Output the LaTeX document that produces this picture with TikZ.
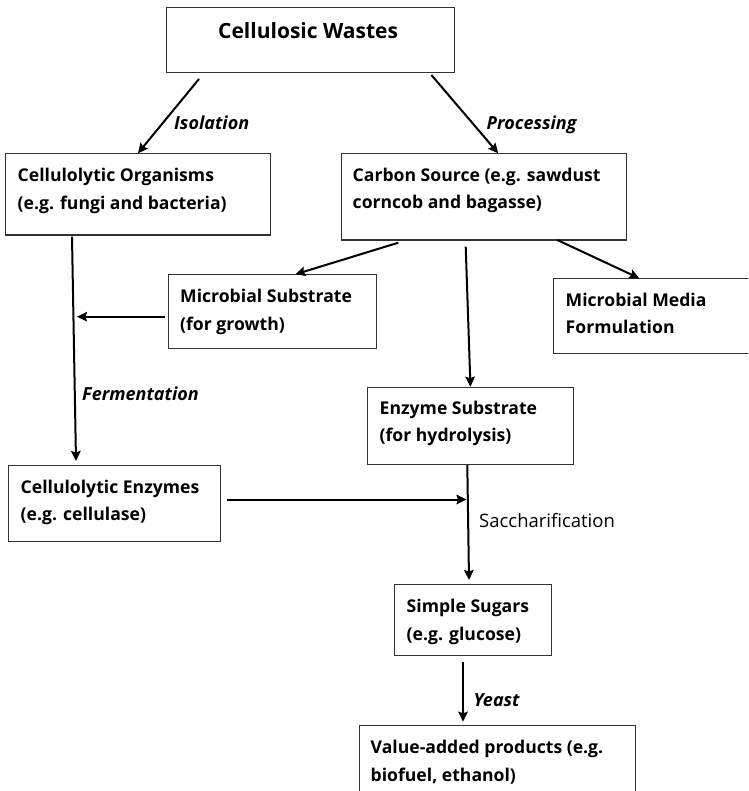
\documentclass[tikz,border=0pt]{standalone}
\usepackage{fontspec}
\setmainfont{Open Sans}
\usetikzlibrary{arrows.meta}
\IfFontExistsTF{Open Sans SemiBold}{\newfontfamily\semibf{Open Sans SemiBold}}{\newcommand\semibf{\bfseries}}
\IfFontExistsTF{Open Sans SemiBold Italic}{\newfontfamily\semibfit{Open Sans SemiBold Italic}}{\newcommand\semibfit{\bfseries\itshape}}
\tikzset{
  box/.style={draw=black!80, line width=1.1pt, inner sep=0pt, anchor=north west},
  txt/.style={anchor=base west, inner sep=0pt, font=\semibf\fontsize{17.6}{22}\selectfont},
  ttl/.style={anchor=base west, inner sep=0pt, font=\semibf\fontsize{21}{25}\selectfont},
  lbl/.style={anchor=base west, inner sep=0pt, font=\semibfit\fontsize{18}{22}\selectfont},
  rlbl/.style={anchor=base west, inner sep=0pt, font=\fontsize{18.5}{22}\selectfont},
  arr/.style={line width=2pt, -{Stealth[length=10pt,width=9.5pt,inset=1.5pt]}}
}
\begin{document}
\begin{tikzpicture}[x=1pt,y=-1pt]
\useasboundingbox (0,0) rectangle (748,791);
\clip (0,0) rectangle (748,791);
% boxes
\node[box, minimum width=288.3pt, minimum height=64.4pt] (cw) at (165.7,7.3) {};
\node[box, minimum width=265.3pt, minimum height=81.2pt] (co) at (4.7,153.3) {};
\node[box, minimum width=285.3pt, minimum height=86.2pt] (cs) at (340.7,153.3) {};
\node[box, minimum width=208.3pt, minimum height=73.4pt] (ms) at (167.7,274.3) {};
\node[box, minimum width=200pt, minimum height=75pt] (mm) at (553.3,278.3) {};
\node[box, minimum width=205.2pt, minimum height=77.6pt] (es) at (367.3,386.7) {};
\node[box, minimum width=211.7pt, minimum height=76pt] (ce) at (8.3,465) {};
\node[box, minimum width=156.4pt, minimum height=71pt] (ss) at (394.3,584.3) {};
\node[box, minimum width=276pt, minimum height=80pt] (va) at (359,725) {};
% texts
\node[ttl] (cwt) at (218,39) {Cellulosic Wastes};
\node[txt] (cot1) at (17.5,181.7) {Cellulolytic Organisms};
\node[txt] (cot2) at (17.5,209.3) {(e.g. fungi and bacteria)};
\node[txt] (cst1) at (352.5,181.7) {Carbon Source (e.g. sawdust};
\node[txt] (cst2) at (352.5,209) {corncob and bagasse)};
\node[txt] (mst1) at (180,302.7) {Microbial Substrate};
\node[txt] (mst2) at (180,330) {(for growth)};
\node[txt] (mmt1) at (565.5,306) {Microbial Media};
\node[txt] (mmt2) at (565.5,333.3) {Formulation};
\node[txt] (est1) at (379.5,414.3) {Enzyme Substrate};
\node[txt] (est2) at (379.5,441.7) {(for hydrolysis)};
\node[txt] (cet1) at (20.5,493.3) {Cellulolytic Enzymes};
\node[txt] (cet2) at (20.5,520) {(e.g. cellulase)};
\node[txt] (sst1) at (406.5,612.3) {Simple Sugars};
\node[txt] (sst2) at (406.5,640) {(e.g. glucose)};
\node[txt] (vat1) at (370.5,753.3) {Value-added products (e.g.};
\node[txt] (vat2) at (370.5,781) {biofuel, ethanol)};
% edge labels
\node[lbl] (liso) at (174,130) {Isolation};
\node[lbl] (lpro) at (486.5,130) {Processing};
\node[lbl] (lfer) at (82,400) {Fermentation};
\node[rlbl] (lsac) at (479,527.7) {Saccharification};
\node[lbl] (lyea) at (473.5,706) {Yeast};
% connector end points
\coordinate (p1) at (199,79);
\coordinate (p2) at (431.4,75);
\coordinate (p3) at (398.3,242.7);
\coordinate (p4) at (465.7,246.7);
\coordinate (p5) at (557.3,240);
\coordinate (p6) at (165,316.7);
\coordinate (q6) at (77,316.7);
\coordinate (p7) at (72,236.7);
\coordinate (q7) at (76,461);
\coordinate (p8) at (226.7,499.5);
\coordinate (q8) at (466.5,499.5);
\coordinate (p9) at (467.3,465);
\coordinate (q9) at (469,580);
\coordinate (p10) at (463,662.3);
\coordinate (q10) at (463,721.7);
% connectors
\draw[arr] (p1) -- (co.north);
\draw[arr] (p2) -- ([xshift=14.3pt]cs.north);
\draw[arr] (p3) -- ([xshift=23pt]ms.north);
\draw[arr] (p4) -- (es.north);
\draw[arr] (p5) -- ([xshift=86pt]mm.north west);
\draw[arr] (p6) -- (q6);
\draw[arr] (p7) -- (q7);
\draw[arr] (p8) -- (q8);
\draw[arr] (p9) -- (q9);
\draw[arr] (p10) -- (q10);
\end{tikzpicture}
\end{document}
